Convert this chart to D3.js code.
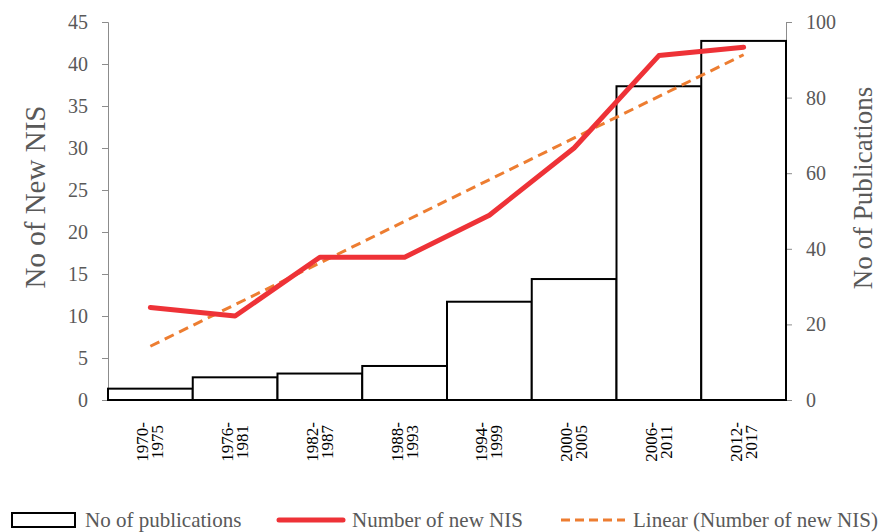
<!DOCTYPE html>
<html>
<head>
<meta charset="utf-8">
<script src="https://cdn.jsdelivr.net/npm/d3@7"></script>
<style>
  body { margin: 0; background: #fff; }
  svg { display: block; font-family: "Liberation Serif", "DejaVu Serif", serif; }
</style>
</head>
<body>
<svg id="chart" width="883" height="532"></svg>
<script>
// Data
const periods = ["1970-1975", "1976-1981", "1982-1987", "1988-1993",
                 "1994-1999", "2000-2005", "2006-2011", "2012-2017"];
const publications = [3, 6, 7, 9, 26, 32, 83, 95];
const newNIS = [11, 10, 17, 17, 22, 30, 41, 42];
// linear trend line endpoints (first and last period), as drawn
const trendEnds = [6.4, 41.1];
const leftTicks = [0, 5, 10, 15, 20, 25, 30, 35, 40, 45];
const rightTicks = [0, 20, 40, 60, 80, 100];

const svg = d3.select("#chart");
const gray = "#595959";
const axisGray = "#8c8c8c";

// plot box
const plotLeft = 108, plotRight = 786, plotTop = 22, plotBottom = 400;

const x = d3.scaleBand().domain(periods).range([plotLeft, plotRight]).padding(0);
const yL = d3.scaleLinear().domain([0, 45]).range([plotBottom, plotTop]);
const yR = d3.scaleLinear().domain([0, 100]).range([plotBottom, plotTop]);

// Left axis
const gL = svg.append("g")
  .attr("transform", `translate(${plotLeft},0)`)
  .call(d3.axisLeft(yL).tickValues(leftTicks).tickSize(6).tickPadding(14));
gL.selectAll("path, line").attr("stroke", axisGray);
gL.selectAll("text").attr("fill", gray).style("font-size", "20px")
  .style("font-family", "Liberation Serif");

// Right axis
const gR = svg.append("g")
  .attr("transform", `translate(${plotRight},0)`)
  .call(d3.axisRight(yR).tickValues(rightTicks).tickSize(6).tickPadding(14));
gR.selectAll("path, line").attr("stroke", axisGray);
gR.selectAll("text").attr("fill", gray).style("font-size", "20px")
  .style("font-family", "Liberation Serif");

// Bars (publications, right axis)
svg.append("g")
  .selectAll("rect")
  .data(publications)
  .join("rect")
  .attr("x", (d, i) => x(periods[i]))
  .attr("y", d => yR(d))
  .attr("width", x.bandwidth())
  .attr("height", d => yR(0) - yR(d))
  .attr("fill", "#fff")
  .attr("stroke", "#000")
  .attr("stroke-width", 2);

// Trend line
const cx = p => x(p) + x.bandwidth() / 2;
svg.append("line")
  .attr("x1", cx(periods[0]))
  .attr("y1", yL(trendEnds[0]))
  .attr("x2", cx(periods[periods.length - 1]))
  .attr("y2", yL(trendEnds[1]))
  .attr("stroke", "#ED7D31")
  .attr("stroke-width", 3)
  .attr("stroke-dasharray", "10,6");

// Number of new NIS line
const line = d3.line()
  .x((d, i) => cx(periods[i]))
  .y(d => yL(d));
svg.append("path")
  .datum(newNIS)
  .attr("d", line)
  .attr("fill", "none")
  .attr("stroke", "#EE3237")
  .attr("stroke-width", 5)
  .attr("stroke-linejoin", "round")
  .attr("stroke-linecap", "round");

// X labels, rotated, two lines
const xl = svg.append("g").selectAll("g")
  .data(periods)
  .join("g")
  .attr("transform", d => `translate(${cx(d)},442) rotate(-90)`);
xl.append("text")
  .attr("text-anchor", "middle")
  .attr("y", -2)
  .style("font-size", "17px")
  .attr("fill", "#000")
  .text(d => d.split("-")[0] + "-");
xl.append("text")
  .attr("text-anchor", "middle")
  .attr("y", 13)
  .style("font-size", "17px")
  .attr("fill", "#000")
  .text(d => d.split("-")[1]);

// Axis titles
svg.append("text")
  .attr("transform", "translate(45,197) rotate(-90)")
  .attr("text-anchor", "middle")
  .attr("fill", gray)
  .style("font-size", "29px")
  .text("No of New NIS");
svg.append("text")
  .attr("transform", "translate(872,188) rotate(-90)")
  .attr("text-anchor", "middle")
  .attr("fill", gray)
  .style("font-size", "27px")
  .text("No of Publications");

// Legend
const lg = svg.append("g").attr("transform", "translate(0,520)");
lg.append("rect").attr("x", 12).attr("y", -7).attr("width", 63).attr("height", 14)
  .attr("fill", "#fff").attr("stroke", "#000").attr("stroke-width", 2);
lg.append("text").attr("x", 85).attr("y", 7).attr("fill", gray)
  .style("font-size", "21px").text("No of publications");
lg.append("line").attr("x1", 279).attr("x2", 343).attr("y1", 0).attr("y2", 0)
  .attr("stroke", "#EE3237").attr("stroke-width", 5).attr("stroke-linecap", "round");
lg.append("text").attr("x", 352).attr("y", 7).attr("fill", gray)
  .style("font-size", "21px").text("Number of new NIS");
lg.append("line").attr("x1", 561).attr("x2", 625).attr("y1", 0).attr("y2", 0)
  .attr("stroke", "#ED7D31").attr("stroke-width", 3).attr("stroke-dasharray", "9,5");
lg.append("text").attr("x", 633).attr("y", 7).attr("fill", gray)
  .style("font-size", "21px").text("Linear (Number of new NIS)");
</script>
</body>
</html>
